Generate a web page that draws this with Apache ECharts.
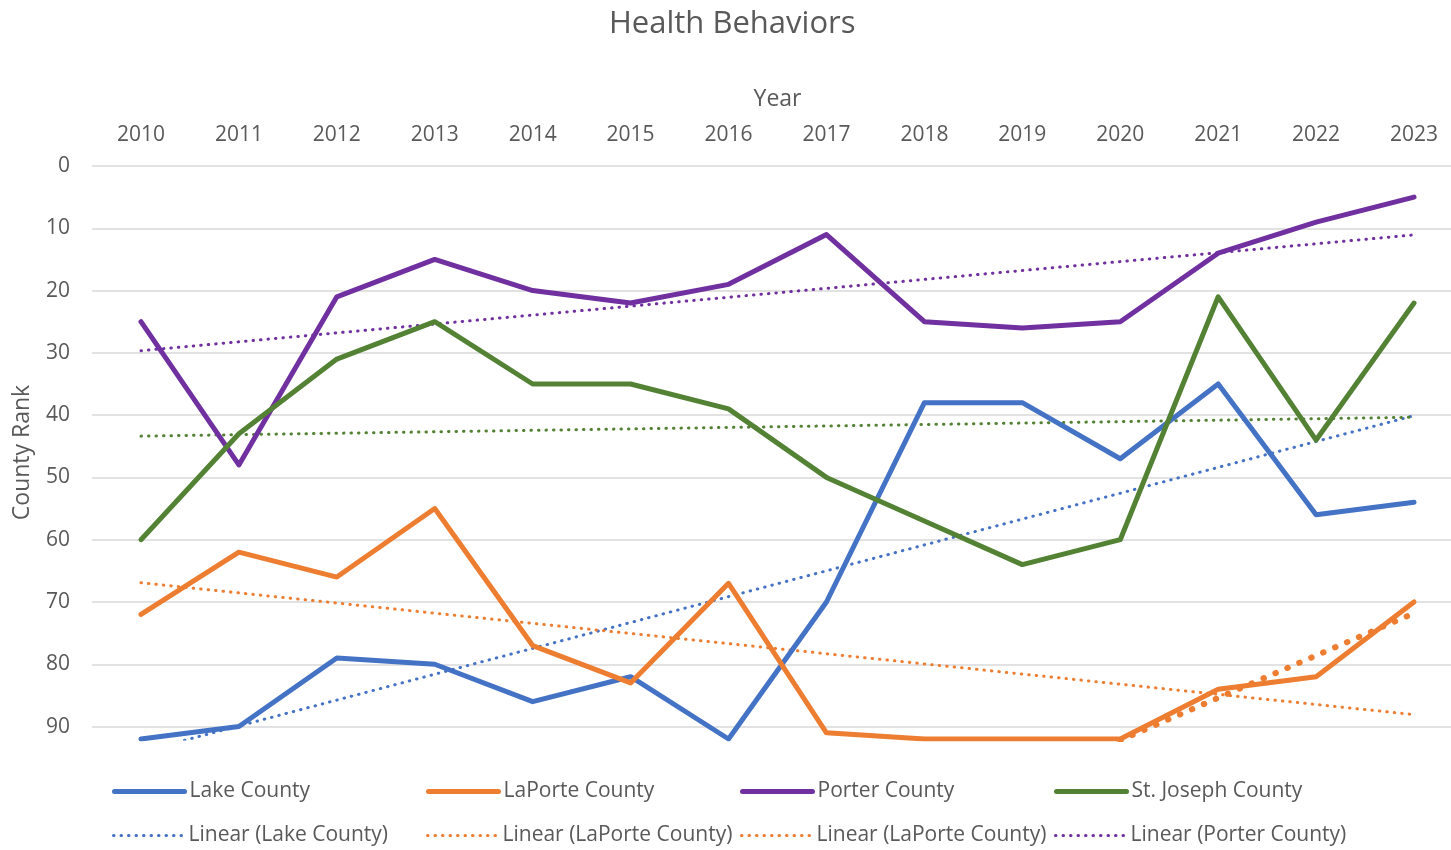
<!DOCTYPE html>
<html>
<head>
<meta charset="utf-8">
<title>Health Behaviors</title>
<script src="https://cdn.jsdelivr.net/npm/echarts@6/dist/echarts.min.js"></script>
<style>
  html, body { margin: 0; padding: 0; background: #fff; }
  #chart { width: 1451px; height: 850px; }
</style>
</head>
<body>
<div id="chart"></div>
<script>
// years on the top axis
const years = ['2010', '2011', '2012', '2013', '2014', '2015', '2016',
  '2017', '2018', '2019', '2020', '2021', '2022', '2023'];

// county rank per year
const lakeCounty = [92, 90, 79, 80, 86, 82, 92, 70, 38, 38, 47, 35, 56, 54];
const laporteCounty = [72, 62, 66, 55, 77, 83, 67, 91, 92, 92, 92, 84, 82, 70];
const porterCounty = [25, 48, 21, 15, 20, 22, 19, 11, 25, 26, 25, 14, 9, 5];
const stJosephCounty = [60, 43, 31, 25, 35, 35, 39, 50, 57, 64, 60, 21, 44, 22];

const yTicks = [0, 10, 20, 30, 40, 50, 60, 70, 80, 90];

const colors = {
  lake: '#4472C4',
  laporte: '#ED7D31',
  porter: '#7030A0',
  stjoe: '#548235'
};

// least squares line over values[from..to], like Excel's linear trendline
function linearFit(values, from, to) {
  const xs = [], ys = [];
  for (let i = from; i <= to; i++) { xs.push(i); ys.push(values[i]); }
  const n = xs.length;
  const mx = xs.reduce((a, b) => a + b, 0) / n;
  const my = ys.reduce((a, b) => a + b, 0) / n;
  let sxy = 0, sxx = 0;
  for (let i = 0; i < n; i++) {
    sxy += (xs[i] - mx) * (ys[i] - my);
    sxx += (xs[i] - mx) * (xs[i] - mx);
  }
  const slope = sxy / sxx;
  return years.map((y, i) => (i < from || i > to) ? null : +(my + slope * (i - mx)).toFixed(3));
}

const chart = echarts.init(document.getElementById('chart'));
const fontFamily = '"Open Sans", "Noto Sans", sans-serif';
const textColor = '#595959';
const thinDots = [0.5, 7];
const bigDots = [0.5, 12.5];

function dataLine(name, values, color) {
  return {
    name: name,
    type: 'line',
    data: values,
    symbol: 'none',
    clip: true,
    z: 3,
    lineStyle: { color: color, width: 5, cap: 'round', join: 'round' },
    itemStyle: { color: color }
  };
}

function trendLine(name, values, color, width, dash) {
  return {
    name: name,
    type: 'line',
    data: values,
    symbol: 'none',
    clip: true,
    z: 2,
    lineStyle: { color: color, width: width, type: dash, cap: 'round' },
    itemStyle: { color: color }
  };
}

// one legend per entry so the two rows line up in columns like Excel's
function legendItem(name, left, top, color, width, dash) {
  return {
    left: left,
    top: top,
    padding: 0,
    itemWidth: 70,
    itemHeight: 20,
    selectedMode: false,
    data: [name],
    itemStyle: { opacity: 0 },
    lineStyle: { color: color, width: width, type: dash, cap: 'round' },
    textStyle: { fontFamily: fontFamily, fontSize: 21, color: textColor }
  };
}

const option = {
  animation: false,
  title: {
    text: 'Health Behaviors',
    left: 604,
    top: 4,
    textStyle: { fontFamily: fontFamily, fontSize: 31, fontWeight: 'normal', color: textColor }
  },
  legend: [
    legendItem('Lake County', 112, 781, colors.lake, 5, 'solid'),
    legendItem('LaPorte County', 426, 781, colors.laporte, 5, 'solid'),
    legendItem('Porter County', 740, 781, colors.porter, 5, 'solid'),
    legendItem('St. Joseph County', 1054, 781, colors.stjoe, 5, 'solid'),
    legendItem('Linear (Lake County)', 112, 825, colors.lake, 3, thinDots),
    legendItem('Linear (LaPorte County)', 426, 825, colors.laporte, 3, thinDots),
    legendItem('Linear (LaPorte County) ', 740, 825, colors.laporte, 3, thinDots),
    legendItem('Linear (Porter County)', 1054, 825, colors.porter, 3, thinDots)
  ],
  grid: { left: 92, top: 166, width: 1371, height: 573, outerBoundsMode: 'none' },
  xAxis: {
    type: 'category',
    position: 'top',
    data: years,
    boundaryGap: true,
    name: 'Year',
    nameLocation: 'middle',
    nameGap: 55,
    nameTextStyle: { fontFamily: fontFamily, fontSize: 23, color: textColor },
    axisLine: { show: false },
    axisTick: { show: false },
    axisLabel: { fontFamily: fontFamily, fontSize: 21, color: textColor, margin: 20 }
  },
  yAxis: {
    type: 'value',
    inverse: true,
    min: yTicks[0],
    max: 92,
    interval: 10,
    name: 'County Rank',
    nameLocation: 'middle',
    nameGap: 58,
    nameRotate: 90,
    nameTextStyle: { fontFamily: fontFamily, fontSize: 23, color: textColor },
    axisLine: { show: false },
    axisTick: { show: false },
    axisLabel: {
      fontFamily: fontFamily, fontSize: 21, color: textColor, margin: 22,
      showMaxLabel: false,
      formatter: v => (yTicks.indexOf(v) >= 0 ? String(v) : '')
    },
    splitLine: { show: true, showMaxLine: false, lineStyle: { color: '#D9D9D9', width: 1.5 } }
  },
  series: [
    dataLine('Lake County', lakeCounty, colors.lake),
    dataLine('LaPorte County', laporteCounty, colors.laporte),
    dataLine('Porter County', porterCounty, colors.porter),
    dataLine('St. Joseph County', stJosephCounty, colors.stjoe),
    trendLine('Linear (Lake County)', linearFit(lakeCounty, 0, 13), colors.lake, 3, thinDots),
    trendLine('Linear (LaPorte County)', linearFit(laporteCounty, 0, 13), colors.laporte, 3, thinDots),
    trendLine('Linear (LaPorte County) ', linearFit(laporteCounty, 10, 13), colors.laporte, 6, bigDots),
    trendLine('Linear (Porter County)', linearFit(porterCounty, 0, 13), colors.porter, 3, thinDots),
    trendLine('Linear (St. Joseph County)', linearFit(stJosephCounty, 0, 13), colors.stjoe, 3, thinDots)
  ]
};

chart.setOption(option);
</script>
</body>
</html>
